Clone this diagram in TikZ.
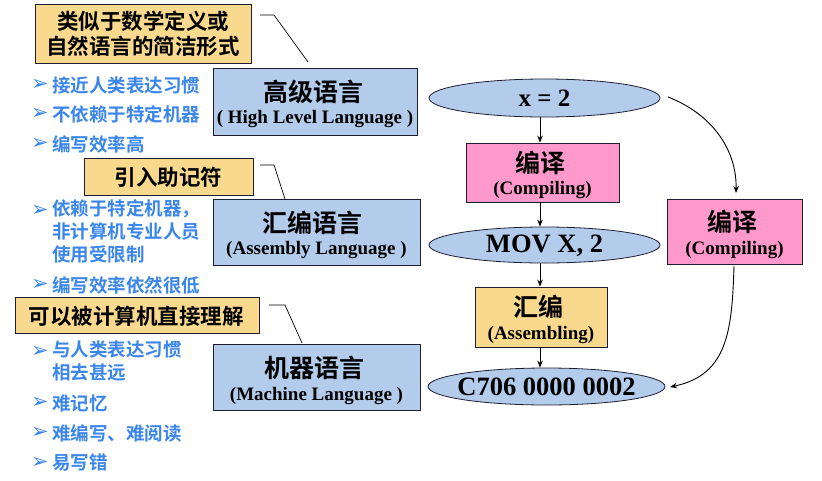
\documentclass[tikz,border=0pt]{standalone}
\usepackage{fontspec}
\setmainfont{Liberation Serif}
\newfontfamily\cjk{Noto Sans CJK SC}[BoldFont={* Bold}]
\newfontfamily\dejavu{DejaVu Sans}
\usetikzlibrary{arrows.meta,shapes.geometric}
\definecolor{boxblue}{RGB}{180,204,236}
\definecolor{boxpink}{RGB}{255,153,204}
\definecolor{boxyellow}{RGB}{249,217,141}
\definecolor{bultext}{RGB}{59,134,234}
\definecolor{edge}{RGB}{30,30,50}
\tikzset{
  ybox/.style={draw=edge,line width=0.8pt,fill=boxyellow,inner sep=0pt},
  bbox/.style={draw=edge,line width=0.8pt,fill=boxblue,inner sep=0pt},
  pbox/.style={draw=edge,line width=0.8pt,fill=boxpink,inner sep=0pt},
  oval/.style={ellipse,draw=edge,line width=0.8pt,fill=boxblue,inner sep=0pt},
  note/.style={font=\cjk\bfseries\fontsize{21.5}{25}\selectfont,align=center,inner sep=0pt},
  bigcjk/.style={font=\cjk\bfseries\fontsize{25}{28}\selectfont,inner sep=0pt},
  midcjk/.style={font=\cjk\bfseries\fontsize{25}{28}\selectfont,inner sep=0pt},
  entext/.style={font=\bfseries\fontsize{19}{22}\selectfont,inner sep=0pt},
  code/.style={font=\bfseries\fontsize{26.5}{30}\selectfont,inner sep=0pt},
  bul/.style={font=\dejavu\fontsize{21}{23}\selectfont,text=bultext,inner sep=0pt,anchor=center},
  bultxt/.style={font=\cjk\bfseries\fontsize{18.5}{22.7}\selectfont,text=bultext,inner sep=0pt,anchor=west,align=left},
  arr/.style={-{Stealth[length=7pt,width=5.5pt]},line width=0.9pt,draw=black},
  callout/.style={line width=0.7pt,draw=black}
}
\begin{document}
\begin{tikzpicture}[x=1pt,y=-1pt]
\useasboundingbox (0,0) rectangle (822,480);
% left notes
\node[ybox,minimum width=216pt,minimum height=59pt] (n1) at (143,33.5) {};
\node[note] (n1t) at (143,34) {类似于数学定义或\\自然语言的简洁形式};
\node[ybox,minimum width=169pt,minimum height=37pt] (n2) at (168.5,176.5) {};
\node[note] (n2t) at (168.5,177) {引入助记符};
\node[ybox,minimum width=244pt,minimum height=36pt] (n3) at (137,315.5) {};
\node[note] (n3t) at (136,316) {可以被计算机直接理解};
% blue boxes
\node[bbox,minimum width=204pt,minimum height=67pt] (hl) at (315,101.5) {};
\node[bigcjk] (hlt) at (313,92) {高级语言};
\node[entext] (hle) at (315,119) {( High Level Language )};
\node[bbox,minimum width=207pt,minimum height=66pt] (al) at (316.5,232) {};
\node[bigcjk] (alt) at (312,223) {汇编语言};
\node[entext] (ale) at (316.5,250) {(Assembly Language )};
\node[bbox,minimum width=207pt,minimum height=66pt] (ml) at (316.5,377) {};
\node[bigcjk] (mlt) at (314,368) {机器语言};
\node[entext] (mle) at (316.5,396) {(Machine Language )};
% callouts
\coordinate (c1a) at (260,15); \coordinate (c1b) at (274,15); \coordinate (c1c) at (308,62);
\draw[callout] (c1a) -- (c1b) -- (c1c);
\coordinate (c2a) at (260,165); \coordinate (c2b) at (274,165); \coordinate (c2c) at (285,199);
\draw[callout] (c2a) -- (c2b) -- (c2c);
\coordinate (c3a) at (269,305); \coordinate (c3b) at (285,305); \coordinate (c3c) at (302,343);
\draw[callout] (c3a) -- (c3b) -- (c3c);
% bullets
\node[bul] (b1) at (40,85) {➢}; \node[bultxt] (t1) at (52,85) {接近人类表达习惯};
\node[bul] (b2) at (40,114) {➢}; \node[bultxt] (t2) at (52,114) {不依赖于特定机器};
\node[bul] (b3) at (40,144) {➢}; \node[bultxt] (t3) at (52,144) {编写效率高};
\node[bul] (b4) at (40,211) {➢}; \node[bultxt,anchor=north west] (t4) at (52,199.5) {依赖于特定机器，\\非计算机专业人员\\使用受限制};
\node[bul] (b5) at (40,285) {➢}; \node[bultxt] (t5) at (52,285) {编写效率依然很低};
\node[bul] (b6) at (40,352) {➢}; \node[bultxt,anchor=north west] (t6) at (52,340.5) {与人类表达习惯\\相去甚远};
\node[bul] (b7) at (40,403) {➢}; \node[bultxt] (t7) at (52,403) {难记忆};
\node[bul] (b8) at (40,433) {➢}; \node[bultxt] (t8) at (52,433) {难编写、难阅读};
\node[bul] (b9) at (40,463) {➢}; \node[bultxt] (t9) at (52,463) {易写错};
% right flow
\node[oval,minimum width=231pt,minimum height=38pt] (x2) at (544.5,98) {};
\node[font=\bfseries\fontsize{25}{28}\selectfont,inner sep=0pt] (x2t) at (544.5,98) {x = 2};
\node[pbox,minimum width=153pt,minimum height=59pt] (cp1) at (542.5,172.5) {};
\node[midcjk] (cp1t) at (540,163) {编译};
\node[entext] (cp1e) at (542.5,190) {(Compiling)};
\node[oval,minimum width=231pt,minimum height=36pt] (mov) at (544.5,245) {};
\node[code] (movt) at (544.5,245.5) {MOV X, 2};
\node[ybox,minimum width=132pt,minimum height=60pt] (asm) at (541,317) {};
\node[midcjk] (asmt) at (538,307) {汇编};
\node[entext] (asme) at (541,335) {(Assembling)};
\node[oval,minimum width=237pt,minimum height=37pt] (mc) at (546.5,386.5) {};
\node[code] (mct) at (546.5,387) {C706 0000 0002};
\node[pbox,minimum width=135pt,minimum height=65pt] (cp2) at (734.5,231.5) {};
\node[midcjk] (cp2t) at (732,222) {编译};
\node[entext] (cp2e) at (734.5,250) {(Compiling)};
% arrows
\coordinate (col) at (540,0);
\draw[arr] (x2.south -| col) -- (cp1.north -| col);
\draw[arr] (cp1.south -| col) -- (mov.north -| col);
\draw[arr] (mov.south -| col) -- (asm.north -| col);
\draw[arr] (asm.south -| col) -- (mc.north -| col);
\coordinate (r1) at (668,97);
\coordinate (r2) at (736,193);
\draw[arr] (r1) .. controls (712,114) and (737,150) .. (r2);
\coordinate (r3) at (734,266);
\coordinate (r4) at (670,387);
\draw[arr] (r3) .. controls (732,330) and (728,375) .. (r4);
\end{tikzpicture}
\end{document}
